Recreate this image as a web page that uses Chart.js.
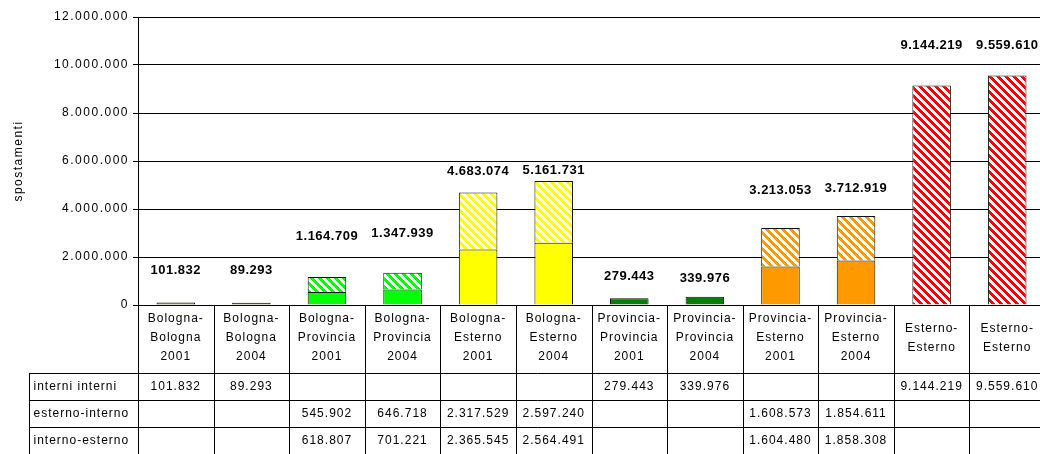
<!DOCTYPE html>
<html>
<head>
<meta charset="utf-8">
<script src="https://cdn.jsdelivr.net/npm/chart.js@4.4.1/dist/chart.umd.min.js"></script>
<style>
  html, body { margin: 0; padding: 0; background: #fff; overflow: hidden; }
  #wrap { width: 1050px; height: 454px; }
</style>
</head>
<body>
<div id="wrap"><canvas id="chart" width="1050" height="454"></canvas></div>
<script>
// Categories (header cells of the data table)
const categories = [
  ['Bologna-', 'Bologna', '2001'],
  ['Bologna-', 'Bologna', '2004'],
  ['Bologna-', 'Provincia', '2001'],
  ['Bologna-', 'Provincia', '2004'],
  ['Bologna-', 'Esterno', '2001'],
  ['Bologna-', 'Esterno', '2004'],
  ['Provincia-', 'Provincia', '2001'],
  ['Provincia-', 'Provincia', '2004'],
  ['Provincia-', 'Esterno', '2001'],
  ['Provincia-', 'Esterno', '2004'],
  ['Esterno-', 'Esterno'],
  ['Esterno-', 'Esterno']
];

const seriesNames = ['interni interni', 'esterno-interno', 'interno-esterno'];

const interniInterni = [101832, 89293, null, null, null, null, 279443, 339976, null, null, 9144219, 9559610];
const esternoInterno = [null, null, 545902, 646718, 2317529, 2597240, null, null, 1608573, 1854611, null, null];
const internoEsterno = [null, null, 618807, 701221, 2365545, 2564491, null, null, 1604480, 1858308, null, null];

const yTicks = [0, 2000000, 4000000, 6000000, 8000000, 10000000, 12000000];

// how far (px) each total label sits above its bar
const labelLift = [32, 32, 41, 39, 21, 11, 22, 18, 37, 27, 40, 30];

const FONT = '"Liberation Sans", Arial, sans-serif';

// Italian thousands separator
function fmt(v) {
  return String(v).replace(/\B(?=(\d{3})+(?!\d))/g, '.');
}

// Excel-like "wide downward diagonal" hatch
function hatch(color) {
  const c = document.createElement('canvas');
  c.width = 8; c.height = 8;
  const g = c.getContext('2d');
  g.fillStyle = '#fff';
  g.fillRect(0, 0, 8, 8);
  g.fillStyle = color;
  for (let y = 0; y < 8; y++) {
    for (let x = 0; x < 8; x++) {
      if (((x - y) % 8 + 8) % 8 < 4) g.fillRect(x, y, 1, 1);
    }
  }
  return g.createPattern(c, 'repeat');
}

const olive = '#667a00';
const lime = '#00ff00';
const yellow = '#ffff00';
const dkGreen = '#008000';
const orange = '#ff9900';
const red = '#ff0000';

const redHatch = hatch(red);
const interniColors = [olive, olive, null, null, null, null, dkGreen, dkGreen, null, null, redHatch, redHatch];
const esternoColors = [null, null, lime, lime, yellow, yellow, null, null, orange, orange, null, null];
const internoColors = [null, null, hatch(lime), hatch(lime), hatch(yellow), hatch(yellow), null, null, hatch(orange), hatch(orange), null, null];

// letter spacing like the original rendering (axis ticks + title)
const spacing = {
  id: 'spacing',
  beforeDraw(chart) { chart.ctx.letterSpacing = '1.5px'; }
};

// totals above the bars
const totals = {
  id: 'totals',
  afterDatasetsDraw(chart) {
    const ctx = chart.ctx;
    const xs = chart.scales.x, ys = chart.scales.y;
    ctx.save();
    ctx.font = 'bold 13px ' + FONT;
    ctx.fillStyle = '#000';
    ctx.textAlign = 'center';
    ctx.textBaseline = 'middle';
    ctx.letterSpacing = '0.5px';
    categories.forEach((c, i) => {
      const total = (interniInterni[i] || 0) + (esternoInterno[i] || 0) + (internoEsterno[i] || 0);
      const x = xs.getPixelForValue(i);
      const y = ys.getPixelForValue(total) - labelLift[i];
      ctx.fillText(fmt(total), x, y);
    });
    ctx.restore();
  }
};

// data table under the plot
const dataTable = {
  id: 'dataTable',
  afterDraw(chart) {
    const ctx = chart.ctx;
    const xs = chart.scales.x;
    const area = chart.chartArea;
    const H = chart.height;
    const half = (xs.getPixelForValue(1) - xs.getPixelForValue(0)) / 2;
    const top = area.bottom;
    const headBottom = top + 68;
    const rowH = 27;
    const leftCol = 29.5;
    ctx.save();
    ctx.strokeStyle = '#000';
    ctx.lineWidth = 1;
    ctx.beginPath();
    for (let i = 0; i <= categories.length; i++) {
      const x = Math.round(i < categories.length ? xs.getPixelForValue(i) - half : xs.getPixelForValue(i - 1) + half) + 0.5;
      ctx.moveTo(x, top);
      ctx.lineTo(x, H);
    }
    ctx.moveTo(leftCol, headBottom);
    ctx.lineTo(leftCol, H);
    for (let r = 0; r < 3; r++) {
      const y = Math.round(headBottom + r * rowH) + 0.5;
      ctx.moveTo(leftCol, y);
      ctx.lineTo(area.right + 1, y);
    }
    ctx.stroke();

    ctx.fillStyle = '#000';
    ctx.font = '12px ' + FONT;
    ctx.letterSpacing = '1px';
    ctx.textBaseline = 'middle';
    ctx.textAlign = 'center';
    categories.forEach((lines, i) => {
      const x = xs.getPixelForValue(i);
      const mid = top + 33;
      lines.forEach((t, k) => {
        ctx.fillText(t, x, mid + (k - (lines.length - 1) / 2) * 19);
      });
    });

    const rows = [interniInterni, esternoInterno, internoEsterno];
    rows.forEach((vals, r) => {
      const y = headBottom + r * rowH + 13.5;
      ctx.textAlign = 'left';
      ctx.fillText(seriesNames[r], leftCol + 4, y);
      ctx.textAlign = 'center';
      vals.forEach((v, i) => {
        if (v != null) ctx.fillText(fmt(v), xs.getPixelForValue(i), y);
      });
    });
    ctx.restore();
  }
};

const ctx = document.getElementById('chart').getContext('2d');
new Chart(ctx, {
  type: 'bar',
  data: {
    labels: categories,
    datasets: [
      {
        label: seriesNames[1],
        data: esternoInterno,
        backgroundColor: esternoColors,
        borderColor: '#111',
        borderWidth: 1
      },
      {
        label: seriesNames[2],
        data: internoEsterno,
        backgroundColor: internoColors,
        borderColor: '#111',
        borderWidth: 1
      },
      {
        label: seriesNames[0],
        data: interniInterni,
        backgroundColor: interniColors,
        borderColor: '#111',
        borderWidth: 1
      }
    ]
  },
  options: {
    responsive: false,
    animation: false,
    devicePixelRatio: 1,
    layout: { padding: { top: 17, right: 5, left: 0, bottom: 0 } },
    datasets: { bar: { barPercentage: 0.51, categoryPercentage: 1 } },
    plugins: {
      legend: { display: false },
      tooltip: { enabled: false }
    },
    scales: {
      x: {
        stacked: true,
        ticks: { display: false },
        grid: { display: false },
        border: { display: true, color: '#000', width: 1 },
        afterFit(scale) { scale.height = 149; }
      },
      y: {
        stacked: true,
        min: 0,
        max: 12000000,
        afterBuildTicks(scale) { scale.ticks = yTicks.map(v => ({ value: v })); },
        ticks: {
          color: '#000',
          font: { family: FONT, size: 12 },
          padding: 4,
          callback: v => fmt(v)
        },
        grid: { color: '#000', lineWidth: 1, tickLength: 5, drawTicks: true },
        border: { display: true, color: '#000', width: 1 },
        title: {
          display: true,
          text: 'spostamenti',
          color: '#000',
          font: { family: FONT, size: 12 },
          padding: { top: 11, bottom: 0 }
        },
        afterFit(scale) { scale.width = 138; }
      }
    }
  },
  plugins: [spacing, totals, dataTable]
});
</script>
</body>
</html>
